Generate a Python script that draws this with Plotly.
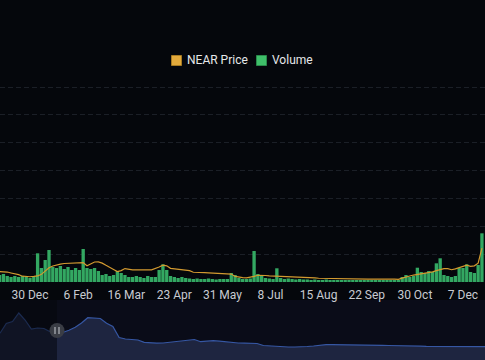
import pandas as pd
import plotly.graph_objects as go

# ---- data ----
dates = pd.date_range("2022-12-06", periods=128, freq="3D")

price = [
    1.72, 1.71, 1.68, 1.60, 1.55, 1.45, 1.32, 1.28, 1.27, 1.30,
    1.34, 1.48, 1.80, 2.05, 2.20, 2.30, 2.36, 2.42, 2.44, 2.45,
    2.43, 2.47, 2.50, 2.22, 2.38, 2.55, 2.56, 2.45, 2.26, 2.05,
    1.90, 1.72, 1.80, 1.98, 1.92, 1.86, 1.87, 1.85, 1.88, 1.86,
    1.87, 1.98, 2.12, 2.28, 2.22, 2.00, 1.95, 1.92, 1.88, 1.86,
    1.80, 1.66, 1.63, 1.62, 1.63, 1.61, 1.60, 1.58, 1.57, 1.56,
    1.53, 1.50, 1.30, 1.22, 1.19, 1.18, 1.22, 1.30, 1.40, 1.42,
    1.38, 1.35, 1.34, 1.32, 1.30, 1.28, 1.28, 1.26, 1.25, 1.24,
    1.22, 1.22, 1.20, 1.17, 1.14, 1.13, 1.12, 1.11, 1.10, 1.09,
    1.08, 1.08, 1.07, 1.06, 1.05, 1.06, 1.06, 1.07, 1.07, 1.08,
    1.07, 1.06, 1.06, 1.07, 1.06, 1.05, 1.15, 1.27, 1.34, 1.42,
    1.47, 1.52, 1.56, 1.62, 1.70, 1.80, 1.88, 1.97, 1.98, 1.88,
    1.95, 2.06, 2.18, 2.28, 2.18, 2.22, 2.45, 3.75,
]

volume = [  # millions USD
    251, 287, 215, 180, 215, 180, 215, 180, 144, 215,
    1030, 503, 790, 1149, 539, 503, 574, 467, 539, 431,
    503, 431, 1185, 503, 467, 503, 395, 251, 287, 215,
    251, 395, 323, 251, 180, 180, 215, 180, 144, 215,
    180, 180, 431, 635, 431, 215, 180, 144, 180, 144,
    126, 108, 126, 108, 108, 126, 108, 90, 108, 108,
    108, 323, 251, 144, 108, 108, 126, 1113, 287, 251,
    144, 126, 108, 492, 144, 108, 126, 108, 90, 108,
    90, 90, 72, 90, 72, 72, 90, 72, 72, 72,
    72, 72, 54, 72, 54, 54, 72, 54, 54, 54,
    72, 54, 54, 72, 54, 72, 180, 251, 180, 215,
    513, 359, 323, 395, 359, 671, 851, 251, 215, 180,
    215, 503, 503, 635, 359, 323, 610, 1748,
]

nav_dates = pd.date_range("2022-10-16", periods=79, freq="7D")
nav_values = [
    26.7, 36.5, 38.5, 47.0, 40.0, 30.8, 32.0, 31.5, 28.3, 27.0,
    27.5, 29.7, 32.8, 37.0, 42.3, 41.8, 41.5, 36.7, 33.5, 22.5,
    21.0, 20.5, 20.0, 17.6, 17.0, 16.8, 17.0, 17.8, 18.3, 19.0,
    20.2, 20.5, 18.3, 18.8, 19.3, 18.8, 18.0, 17.5, 17.0, 16.8,
    16.7, 16.5, 14.5, 14.0, 13.5, 13.2, 13.0, 13.0, 13.0, 13.5,
    14.0, 14.8, 15.3, 15.3, 15.3, 15.3, 15.0, 15.0, 14.8, 14.7,
    14.7, 14.7, 14.5, 14.5, 14.5, 14.3, 14.0, 13.8, 13.6, 13.5,
    13.3, 13.3, 13.3, 13.3, 13.3, 13.3, 13.3, 13.3, 13.3,
]

series_names = ["NEAR Price", "Volume"]

tick_start = "2022-12-30"
tick_step_days = 38

# ---- colours ----
BG = "#05070c"
PRICE = "#d39a30"
VOL = "#33a862"
GRID = "#1b1f27"
TXT = "#c8cbd1"
FONT = "Roboto, Inter, sans-serif"

W, H = 485, 360
main_bottom = 282
main_top = 80
nav_top = 300
grid_px = 195.0 / 7  # pixel spacing of the dashed grid

fig = go.Figure()

fig.add_trace(go.Bar(
    x=dates, y=volume, name=series_names[1], marker=dict(color=VOL, line=dict(width=0)),
    xaxis="x", yaxis="y", showlegend=False,
))
fig.add_trace(go.Scatter(
    x=dates, y=price, name=series_names[0], mode="lines",
    line=dict(color=PRICE, width=1.2), xaxis="x", yaxis="y2", showlegend=False,
))

# navigator
fig.add_trace(go.Scatter(
    x=nav_dates, y=nav_values, mode="lines", fill="tozeroy",
    line=dict(color="#3657a3", width=1.2), fillcolor="#1e2540",
    xaxis="x2", yaxis="y3", showlegend=False, hoverinfo="skip",
))

vol_top = 1000 * (main_bottom - main_top) / grid_px
px_per_usd = 11.53
p0 = 0.816
p_top = p0 + (main_bottom - main_top) / px_per_usd


def px(xp):
    return xp / W


def py(yp):
    return (H - yp) / H


shapes = [
    dict(type="rect", xref="paper", yref="paper", x0=0, x1=1, y0=0, y1=py(nav_top),
         fillcolor="#0a0c18", line=dict(width=0), layer="below"),
    dict(type="rect", xref="paper", yref="paper", x0=0, x1=px(57), y0=0, y1=py(nav_top),
         fillcolor="rgba(6,8,12,0.55)", line=dict(width=0), layer="above"),
    dict(type="circle", xref="paper", yref="paper",
         x0=px(49.5), x1=px(64.5), y0=py(338), y1=py(323),
         fillcolor="#3a3d45", line=dict(width=0), layer="above"),
    dict(type="line", xref="paper", yref="paper", x0=px(55), x1=px(55),
         y0=py(334), y1=py(327), line=dict(color="#9a9ca3", width=1.5), layer="above"),
    dict(type="line", xref="paper", yref="paper", x0=px(59), x1=px(59),
         y0=py(334), y1=py(327), line=dict(color="#9a9ca3", width=1.5), layer="above"),
    # legend swatches
    dict(type="rect", xref="paper", yref="paper", x0=px(171.5), x1=px(181.5), y0=py(65.5), y1=py(55.5),
         fillcolor="#e3aa3c", line=dict(color="#a67a22", width=1)),
    dict(type="rect", xref="paper", yref="paper", x0=px(256.5), x1=px(266.5), y0=py(65.5), y1=py(55.5),
         fillcolor="#3fbf6a", line=dict(color="#2a8a4b", width=1)),
]

annotations = [
    dict(text=series_names[0], xref="paper", yref="paper", x=px(185), y=py(60.5),
         xanchor="left", yanchor="middle", showarrow=False,
         font=dict(size=12, color="#e6e7ea", family=FONT)),
    dict(text=series_names[1], xref="paper", yref="paper", x=px(270), y=py(60.5),
         xanchor="left", yanchor="middle", showarrow=False,
         font=dict(size=12, color="#e6e7ea", family=FONT)),
]

fig.update_layout(
    width=W, height=H,
    margin=dict(l=0, r=0, t=0, b=0),
    paper_bgcolor=BG, plot_bgcolor=BG,
    bargap=0.12,
    font=dict(family=FONT, color=TXT, size=12),
    showlegend=False,
    xaxis=dict(
        type="date", domain=[0, 1],
        range=["2022-12-06 07:00", "2023-12-24 10:00"],
        tick0=tick_start, dtick=tick_step_days * 86400000, tickformat="%-d %b",
        showgrid=False, zeroline=False, showline=False,
        ticks="outside", ticklen=2, tickcolor="rgba(0,0,0,0)",
        tickfont=dict(size=12, color=TXT), anchor="y",
    ),
    yaxis=dict(
        domain=[py(main_bottom), py(main_top)],
        range=[0, vol_top], dtick=1000, showticklabels=False,
        showgrid=True, gridcolor=GRID, griddash="5px,3px", gridwidth=1,
        zeroline=False, showline=False,
    ),
    yaxis2=dict(
        overlaying="y", range=[p0, p_top], showgrid=False, showticklabels=False,
        zeroline=False, showline=False,
    ),
    xaxis2=dict(
        type="date", domain=[0, 1], anchor="y3",
        range=[nav_dates[0], nav_dates[0] + pd.Timedelta(days=7 * 77.35)],
        showgrid=False, zeroline=False, showticklabels=False, showline=False,
    ),
    yaxis3=dict(
        domain=[0, py(nav_top)], range=[0, H - nav_top],
        showgrid=False, zeroline=False, showticklabels=False, showline=False,
    ),
    shapes=shapes,
    annotations=annotations,
)

fig.write_html(
    "out.html",
    config={"displayModeBar": False},
    post_script="document.body.style.margin='0';document.body.style.background='#05070c';",
)
